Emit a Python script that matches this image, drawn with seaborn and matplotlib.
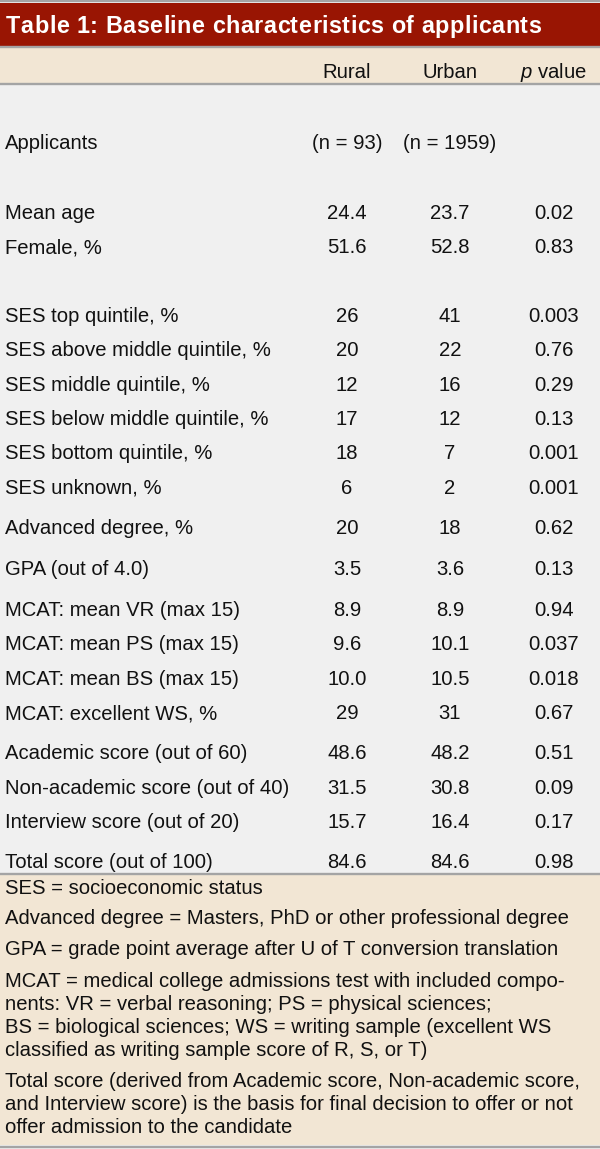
import matplotlib
matplotlib.use("Agg")
import matplotlib.pyplot as plt
import seaborn as sns
from matplotlib.font_manager import FontProperties, findfont
from matplotlib.ft2font import FT2Font

# ---------------- data ----------------
title = "Table 1: Baseline characteristics of applicants"
col_headers = ["Rural", "Urban", "value"]
row_labels = [
    "Applicants", "Mean age", "Female, %",
    "SES top quintile, %", "SES above middle quintile, %", "SES middle quintile, %",
    "SES below middle quintile, %", "SES bottom quintile, %", "SES unknown, %",
    "Advanced degree, %", "GPA (out of 4.0)",
    "MCAT: mean VR (max 15)", "MCAT: mean PS (max 15)", "MCAT: mean BS (max 15)",
    "MCAT: excellent WS, %",
    "Academic score (out of 60)", "Non-academic score (out of 40)",
    "Interview score (out of 20)", "Total score (out of 100)",
]
rural = ["(n = 93)", "24.4", "51.6", "26", "20", "12", "17", "18", "6", "20", "3.5",
         "8.9", "9.6", "10.0", "29", "48.6", "31.5", "15.7", "84.6"]
urban = ["(n = 1959)", "23.7", "52.8", "41", "22", "16", "12", "7", "2", "18", "3.6",
         "8.9", "10.1", "10.5", "31", "48.2", "30.8", "16.4", "84.6"]
pvals = ["", "0.02", "0.83", "0.003", "0.76", "0.29", "0.13", "0.001", "0.001", "0.62", "0.13",
         "0.94", "0.037", "0.018", "0.67", "0.51", "0.09", "0.17", "0.98"]
footnotes = [
    ["SES = socioeconomic status"],
    ["Advanced degree = Masters, PhD or other professional degree"],
    ["GPA = grade point average after U of T conversion translation"],
    ["MCAT = medical college admissions test with included compo-",
     "nents: VR = verbal reasoning; PS = physical sciences;",
     "BS = biological sciences; WS = writing sample (excellent WS",
     "classified as writing sample score of R, S, or T)"],
    ["Total score (derived from Academic score, Non-academic score,",
     "and Interview score) is the basis for final decision to offer or not",
     "offer admission to the candidate"],
]

# ---------------- layout (pixel coordinates) ----------------
W, H = 600, 1149
row_y = [142, 212, 246, 315, 349, 384, 418, 452, 487, 527, 568, 609, 643, 678, 712,
         752, 787, 821, 861]
foot_y = [[886.5], [917.5], [948], [980, 1003, 1026, 1049], [1080, 1103, 1126]]
col_x = [347, 450, 554]
head_x = [347, 450, 553]
RED = "#991503"
BEIGE = "#f2e6d4"
BODY = "#f0f0f0"
LINE = "#a4a4a4"
TXT = "#111111"
FONT = ["Liberation Sans", "DejaVu Sans"]
FS = 14.6
CAP = 7  # half cap height in px
TITLE_FS = 16.8
TITLE_X0, TITLE_X1 = 6, 541

sns.set_theme(style="white")
plt.rcParams["font.family"] = FONT
plt.rcParams["mathtext.fontset"] = "custom"
plt.rcParams["mathtext.it"] = "Liberation Sans:italic"
plt.rcParams["mathtext.rm"] = "Liberation Sans"

fig = plt.figure(figsize=(W / 100, H / 100), dpi=100)
ax = fig.add_axes([0, 0, 1, 1])
ax.set_xlim(0, W)
ax.set_ylim(H, 0)
ax.axis("off")

# backgrounds
ax.axhspan(0, H, color=BODY, lw=0)
ax.axhspan(3, 46, color=RED, lw=0)
ax.axhspan(48, 83.5, color=BEIGE, lw=0)
ax.axhspan(874.5, 1145, color=BEIGE, lw=0)
for y in [1.2, 46.8, 84.2, 873.6, 1146.5]:
    ax.axhline(y, color=LINE, lw=1.7)

# title, drawn with slight letter spacing
fp = FontProperties(family="Liberation Sans", weight="bold")
ft = FT2Font(findfont(fp))
ft.set_size(TITLE_FS, 100)
adv = []
for ch in title:
    g = ft.load_char(ord(ch))
    adv.append(g.linearHoriAdvance / 65536.0)
natural = sum(adv)
spacing = ((TITLE_X1 - TITLE_X0) - natural) / (len(title) - 1)
x = TITLE_X0
for ch, a in zip(title, adv):
    ax.text(x, 33, ch, color="white", fontsize=TITLE_FS, fontweight="bold",
            ha="left", va="baseline")
    x += a + spacing

# header
for hx, h in zip(head_x[:2], col_headers[:2]):
    ax.text(hx, 71 + CAP, h, fontsize=FS, ha="center", va="baseline", color=TXT)
ax.text(head_x[2], 71 + CAP, r"$\it{p}$" + " " + col_headers[2], fontsize=FS,
        ha="center", va="baseline", color=TXT)

# rows
for y, lab, r, u, p in zip(row_y, row_labels, rural, urban, pvals):
    ax.text(5, y + CAP, lab, fontsize=FS, ha="left", va="baseline", color=TXT)
    ax.text(col_x[0], y + CAP, r, fontsize=FS, ha="center", va="baseline", color=TXT)
    ax.text(col_x[1], y + CAP, u, fontsize=FS, ha="center", va="baseline", color=TXT)
    if p:
        ax.text(col_x[2], y + CAP, p, fontsize=FS, ha="center", va="baseline", color=TXT)

# footnotes
for ys, lines in zip(foot_y, footnotes):
    for y, t in zip(ys, lines):
        ax.text(5, y + CAP, t, fontsize=FS, ha="left", va="baseline", color=TXT)

fig.savefig("out.png", dpi=100)
